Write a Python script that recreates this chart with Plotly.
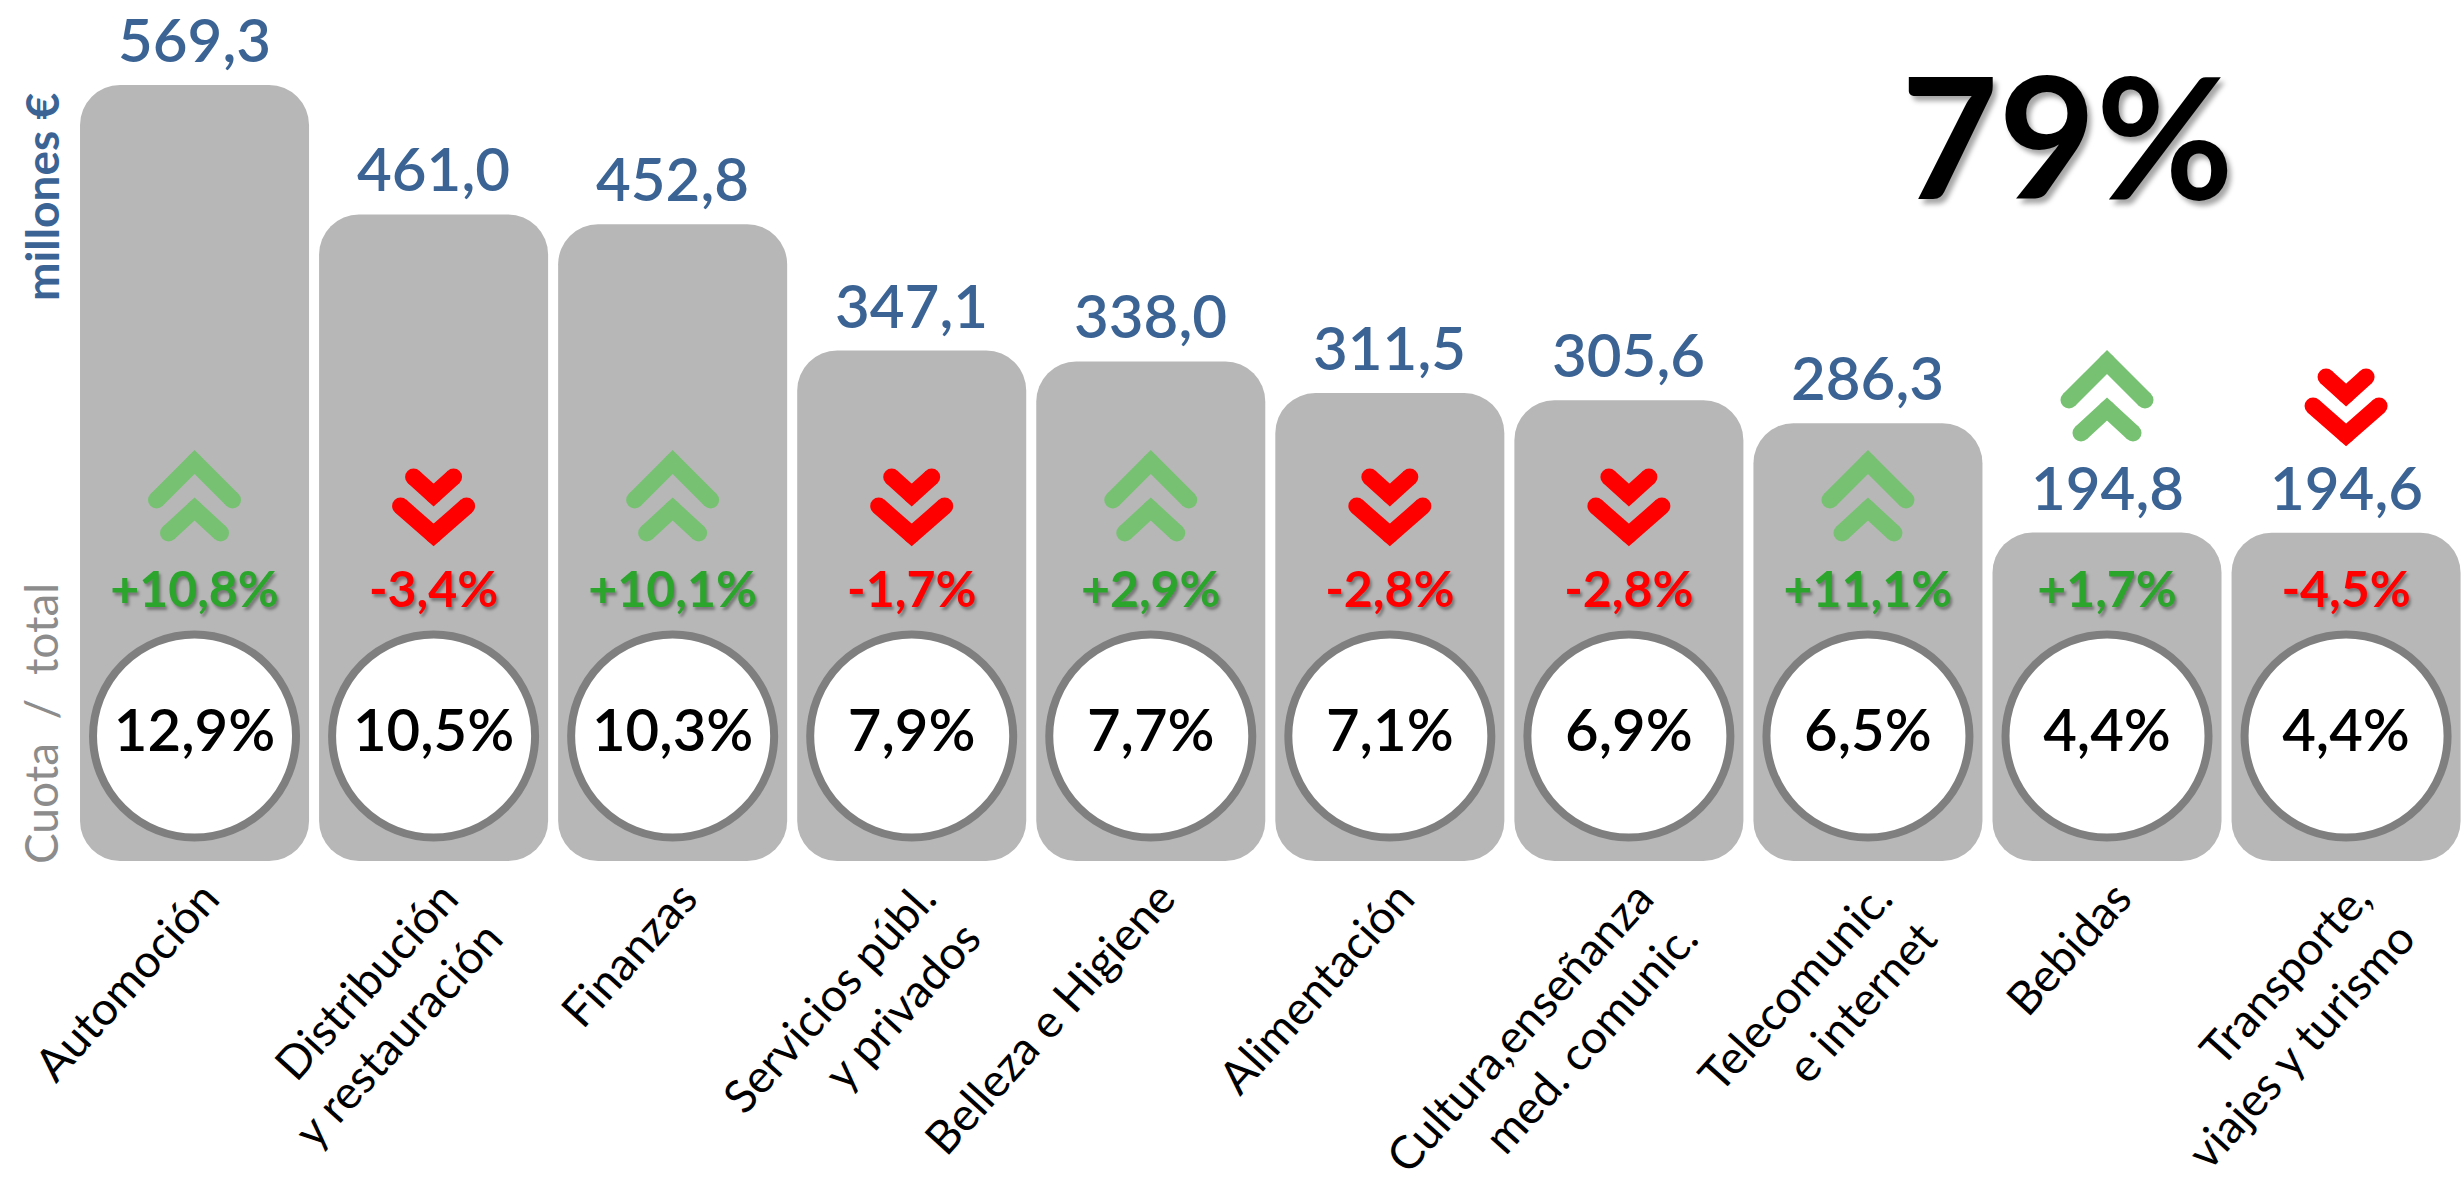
import plotly.graph_objects as go

# ---------------- data ----------------
categories = [
    "Automoción",
    "Distribución<br>y restauración",
    "Finanzas",
    "Servicios públ.<br>y privados",
    "Belleza e Higiene",
    "Alimentación",
    "Cultura,enseñanza<br>med. comunic.",
    "Telecomunic.<br>e internet",
    "Bebidas",
    "Transporte,<br>viajes y turismo",
]
inversion = [569.3, 461.0, 452.8, 347.1, 338.0, 311.5, 305.6, 286.3, 194.8, 194.6]  # millones €
variacion = [10.8, -3.4, 10.1, -1.7, 2.9, -2.8, -2.8, 11.1, 1.7, -4.5]  # % change
cuota = [12.9, 10.5, 10.3, 7.9, 7.7, 7.1, 6.9, 6.5, 4.4, 4.4]  # % share of total


def fmt(v, dec=1):
    return f"{v:.{dec}f}".replace(".", ",")


value_labels = [fmt(v) for v in inversion]
share_labels = [fmt(c) + "%" for c in cuota]
change_labels = [("+" if d > 0 else "") + fmt(d) + "%" for d in variacion]
total_share = round(sum(cuota))

# ---------------- layout constants ----------------
W, H = 2463, 1186
PLOT_L, PLOT_H = 75, 861
PLOT_W = W - PLOT_L
PX_X = 239.06          # px per category
PX_Y = 1.1951          # px per million €
Y_MIN = -80
Y_MAX = Y_MIN + PLOT_H / PX_Y
X_MIN = -0.5
X_MAX = X_MIN + PLOT_W / PX_X

GRAY = "#B7B7B7"
BLUE = "#3B6495"
GREEN_TXT = "#2CA52C"
GREEN_ARR = "#77C272"
RED = "#FF0000"
RING = "#7F7F7F"
FONT = "Lato, 'Open Sans', sans-serif"


def y_at(py):
    return Y_MIN + (PLOT_H - py) / PX_Y


def bar_top_px(v):
    return PLOT_H - (v - Y_MIN) * PX_Y


n = len(categories)
x = list(range(n))
BAR_W = 0.958

fig = go.Figure()
fig.add_trace(go.Bar(
    x=x, y=[v - Y_MIN for v in inversion], base=Y_MIN, width=BAR_W,
    marker=dict(color=GRAY, cornerradius=40, line_width=0),
    customdata=value_labels, hovertemplate="%{customdata} millones €<extra></extra>",
))

# share circles
fig.add_trace(go.Scatter(
    x=x, y=[y_at(736)] * n, mode="markers+text", cliponaxis=False,
    marker=dict(size=203, color="white", line=dict(color=RING, width=8)),
    text=share_labels, textposition="middle center",
    textfont=dict(family=FONT, size=58, color="black", weight=600), hoverinfo="skip",
))

# change labels
fig.add_trace(go.Scatter(
    x=x, y=[y_at(594)] * n, mode="text", cliponaxis=False,
    text=change_labels,
    textfont=dict(family=FONT, size=50, weight="bold",
                  color=[GREEN_TXT if d > 0 else RED for d in variacion],
                  shadow="2px 3px 3px rgba(0,0,0,0.35)"),
    hoverinfo="skip",
))

# chevrons (geometry in px relative to an anchor)
G_SHAPES = [[(-38, 0), (0, -38), (38, 0)], [(-26, 33), (0, 9), (26, 33)]]
R_SHAPES = [[(-20, -23), (0, -5), (20, -23)], [(-33, 6), (0, 35), (33, 6)]]
ANCHOR_IN, ANCHOR_OUT = 500, 400
gx, gy, rx, ry = [], [], [], []
for i, (v, d) in enumerate(zip(inversion, variacion)):
    anchor = ANCHOR_IN if bar_top_px(v) < ANCHOR_IN - 60 else ANCHOR_OUT
    shapes, xs, ys = (G_SHAPES, gx, gy) if d > 0 else (R_SHAPES, rx, ry)
    for shp in shapes:
        for dx, dy in shp:
            xs.append(i + dx / PX_X)
            ys.append(y_at(anchor + dy))
        xs.append(None)
        ys.append(None)
for xs, ys, col in ((gx, gy, GREEN_ARR), (rx, ry, RED)):
    fig.add_trace(go.Scatter(
        x=xs, y=ys, mode="lines+markers", cliponaxis=False,
        line=dict(color=col, width=17), marker=dict(color=col, size=17),
        hoverinfo="skip",
    ))

annotations = []
for i, lab in enumerate(value_labels):
    annotations.append(dict(
        x=i, y=inversion[i], xref="x", yref="y", text=lab, showarrow=False,
        yanchor="bottom", yshift=8,
        font=dict(family=FONT, size=60, color=BLUE, weight=600),
    ))


def px_to_paper(px, py):
    return (px - PLOT_L) / PLOT_W, (PLOT_H - py) / PLOT_H


ax_, ay_ = px_to_paper(2067, 134)
annotations.append(dict(
    x=ax_, y=ay_, xref="paper", yref="paper", text=f"{total_share}%", showarrow=False,
    xanchor="center", yanchor="middle",
    font=dict(family=FONT, size=168, color="black", weight="bold",
              shadow="4px 5px 5px rgba(0,0,0,0.35)"),
))
ax_, ay_ = px_to_paper(41, 197)
annotations.append(dict(
    x=ax_, y=ay_, xref="paper", yref="paper", text="millones €", showarrow=False,
    textangle=-90, xanchor="center", yanchor="middle",
    font=dict(family=FONT, size=46, color=BLUE, weight="bold"),
))
ax_, ay_ = px_to_paper(40, 724)
annotations.append(dict(
    x=ax_, y=ay_, xref="paper", yref="paper", text="Cuota \u00a0/\u00a0 total", showarrow=False,
    textangle=-90, xanchor="center", yanchor="middle",
    font=dict(family=FONT, size=46, color="#8C8C8C"),
))

fig.update_layout(
    width=W, height=H, autosize=False,
    margin=dict(l=PLOT_L, r=0, t=0, b=H - PLOT_H, pad=0, autoexpand=False),
    barmode="overlay", showlegend=False,
    plot_bgcolor="white", paper_bgcolor="white",
    xaxis=dict(range=[X_MIN, X_MAX], tickvals=x, ticktext=categories, tickangle=-48,
               tickfont=dict(family=FONT, size=46, color="black"), automargin=False,
               ticklabeloverflow="allow", ticklabelshift=10,
               showgrid=False, zeroline=False, showline=False, ticks=""),
    yaxis=dict(range=[Y_MIN, Y_MAX], visible=False, automargin=False),
    annotations=annotations,
)

fig.write_html(
    "out.html",
    config={"displayModeBar": False},
    post_script="document.body.style.margin='0';document.body.style.overflow='hidden';",
)
